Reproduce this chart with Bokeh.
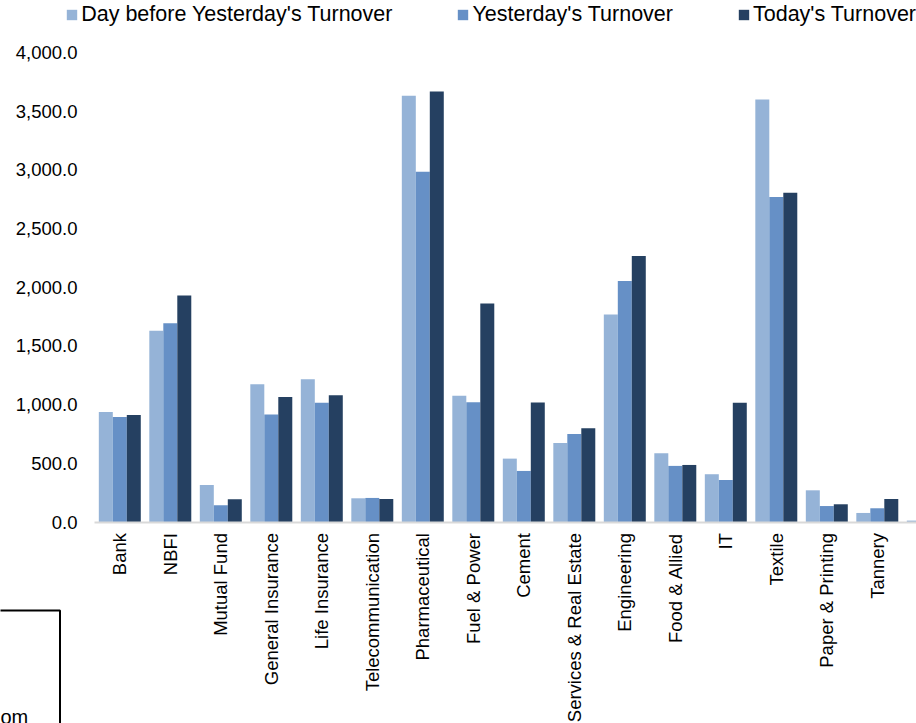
import math
from bokeh.plotting import figure
from bokeh.models import (Range1d, FixedTicker, NumeralTickFormatter, Legend, LegendItem,
                          Label, BoxAnnotation, ColumnDataSource)
from bokeh.transform import dodge
from bokeh.embed import file_html
from bokeh.resources import INLINE

# ---- data ----
sectors = ["Bank", "NBFI", "Mutual Fund", "General Insurance", "Life Insurance",
           "Telecommunication", "Pharmaceutical", "Fuel & Power", "Cement",
           "Services & Real Estate", "Engineering", "Food & Allied", "IT", "Textile",
           "Paper & Printing", "Tannery", "Jute"]
day_before = [938, 1629, 316, 1174, 1217, 202, 3631, 1075, 540, 674, 1768, 586, 407, 3599, 270, 77, 12]
yesterday = [895, 1694, 142, 915, 1017, 205, 2985, 1021, 435, 750, 2053, 478, 358, 2769, 136, 117, 10]
today = [912, 1930, 193, 1066, 1080, 196, 3667, 1862, 1018, 799, 2266, 486, 1017, 2806, 151, 196, 15]
series_names = ["Day before Yesterday's Turnover", "Yesterday's Turnover", "Today's Turnover"]
y_ticks = [0, 500, 1000, 1500, 2000, 2500, 3000, 3500, 4000]
note_text = "om"

colors = ["#95B3D7", "#6690C6", "#254061"]
FONT = "Liberation Sans"

W, H = 916, 723
# layout: pixel geometry of the plotting area
px_per_cat = 50.5
first_center_px = 119.3
zero_px = 521.5             # y pixel (from top) of value 0
px_per_unit = 469.5 / 4000  # 4000 sits at y=52
x0 = -first_center_px / px_per_cat
x1 = x0 + W / px_per_cat
y0 = -(H - zero_px) / px_per_unit
y1 = zero_px / px_per_unit

idx = list(range(len(sectors)))
src = ColumnDataSource(dict(x=idx, a=day_before, b=yesterday, c=today))

p = figure(width=W, height=H,
           x_range=Range1d(x0, x1), y_range=Range1d(y0, y1),
           output_backend="svg", toolbar_location=None,
           min_border_left=0, min_border_right=0, min_border_top=0, min_border_bottom=0)
p.outline_line_color = None
p.xgrid.visible = False
p.ygrid.visible = False
p.background_fill_color = "white"
p.border_fill_color = "white"

bw = 0.277
renderers = []
for col, off, color in zip(["a", "b", "c"], [-bw, 0, bw], colors):
    r = p.vbar(x=dodge("x", off), top=col, width=bw, source=src,
               fill_color=color, line_color=None)
    renderers.append(r)

xa = p.xaxis[0]
xa.ticker = FixedTicker(ticks=idx)
xa.major_label_overrides = {i: s for i, s in enumerate(sectors)}
xa.major_label_orientation = math.pi / 2
xa.major_tick_line_color = None
xa.major_tick_in = 0
xa.major_tick_out = 0
xa.minor_tick_line_color = None
xa.axis_line_color = "#D9D9D9"
xa.axis_line_width = 2
xa.major_label_standoff = 11
xa.major_label_text_font = FONT
xa.major_label_text_font_size = "18.5px"
xa.major_label_text_color = "#000000"
xa.fixed_location = 0
xa.bounds = (-0.5, len(sectors) - 0.5)

ya = p.yaxis[0]
ya.ticker = FixedTicker(ticks=y_ticks)
ya.formatter = NumeralTickFormatter(format="0,0.0")
ya.axis_line_color = None
ya.major_tick_line_color = None
ya.major_tick_in = 0
ya.major_tick_out = 0
ya.minor_tick_line_color = None
ya.major_label_standoff = 17
ya.major_label_text_font = FONT
ya.major_label_text_font_size = "18.5px"
ya.major_label_text_color = "#000000"
ya.fixed_location = -0.5
ya.bounds = (0, 4000)

legend = Legend(items=[LegendItem(label=n, renderers=[r]) for n, r in zip(series_names, renderers)],
                orientation="horizontal", location=(65.2, H - 27),
                glyph_width=13, glyph_height=13, label_standoff=3, spacing=64,
                padding=0, margin=0, border_line_color=None, background_fill_alpha=0,
                label_text_font=FONT, label_text_font_size="21.5px", label_text_color="#000000")
p.add_layout(legend, "center")

box = BoxAnnotation(left=-300, right=59.5, top=H - 610, bottom=-300,
                    left_units="screen", right_units="screen",
                    top_units="screen", bottom_units="screen",
                    fill_alpha=0, line_color="black", line_alpha=1, line_width=2)
p.add_layout(box)
p.add_layout(Label(x=0, y=H - 716, x_units="screen", y_units="screen", text=note_text,
                   text_align="left", text_baseline="alphabetic",
                   text_font=FONT, text_font_size="20px", text_color="#000000"))

open("out.html", "w").write(file_html(p, INLINE))
